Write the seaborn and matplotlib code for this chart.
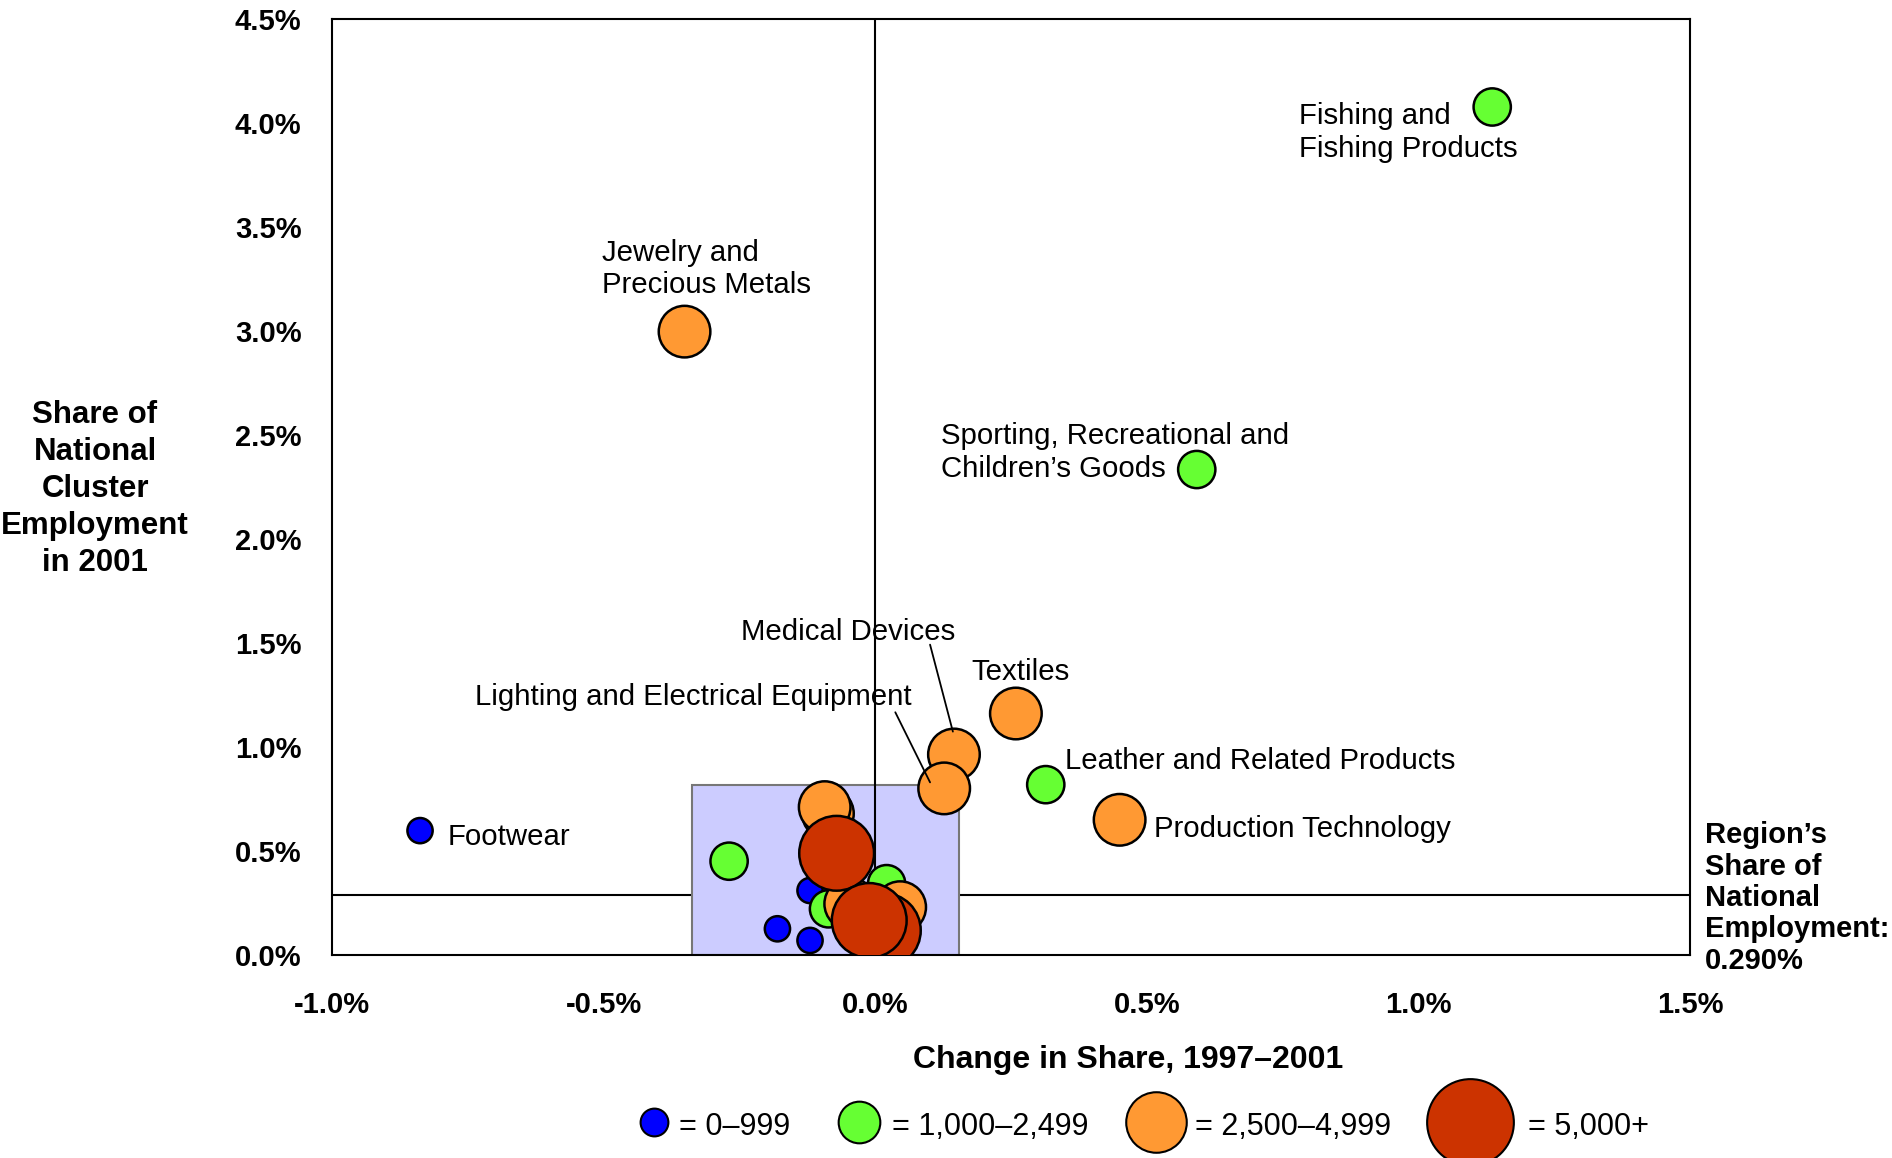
import matplotlib
matplotlib.use("Agg")
import matplotlib.pyplot as plt
import seaborn as sns
import pandas as pd
from matplotlib.patches import Rectangle

# ------------------------------------------------------------
# Data
# ------------------------------------------------------------
size_classes = ["0–999", "1,000–2,499", "2,500–4,999", "5,000+"]
class_colors = ["#0000FF", "#66FF33", "#FF9933", "#CC3300"]

blue_x = [-0.838, -0.120, -0.180, -0.120]
blue_y = [0.598, 0.310, 0.126, 0.070]

green_x = [1.136, 0.592, 0.314, -0.269, 0.021, -0.086]
green_y = [4.077, 2.334, 0.819, 0.451, 0.343, 0.222]

orange_x = [-0.351, 0.259, 0.145, 0.127, 0.450, -0.087, -0.093, -0.046, 0.046]
orange_y = [2.997, 1.161, 0.964, 0.801, 0.650, 0.680, 0.711, 0.246, 0.230]

red_x = [-0.071, 0.015, -0.011]
red_y = [0.489, 0.118, 0.166]

region_share = 0.29
box_x = [-0.338, 0.155]
box_y = [0.0, 0.815]

labels = ["Fishing and\nFishing Products", "Jewelry and\nPrecious Metals",
          "Sporting, Recreational and\nChildren’s Goods", "Medical Devices", "Textiles",
          "Lighting and Electrical Equipment", "Leather and Related Products",
          "Production Technology", "Footwear"]
label_x = [0.781, -0.503, 0.121, -0.247, 0.177, -0.736, 0.350, 0.514, -0.787]
label_y = [3.955, 3.298, 2.415, 1.552, 1.360, 1.239, 0.931, 0.606, 0.565]

# leader lines: (x0, y0, x1, y1)
leaders = [(0.101, 1.492, 0.143, 1.074), (0.037, 1.167, 0.101, 0.830)]

xticks = [-1.0, -0.5, 0.0, 0.5, 1.0, 1.5]
yticks = [0.0, 0.5, 1.0, 1.5, 2.0, 2.5, 3.0, 3.5, 4.0, 4.5]

# build a table for seaborn
df = pd.DataFrame({
    "x": blue_x + green_x + orange_x + red_x,
    "y": blue_y + green_y + orange_y + red_y,
    "cls": [size_classes[0]] * len(blue_x) + [size_classes[1]] * len(green_x)
           + [size_classes[2]] * len(orange_x) + [size_classes[3]] * len(red_x),
})

# ------------------------------------------------------------
# Plot
# ------------------------------------------------------------
sns.set_style("white")
plt.rcParams["font.family"] = ["Liberation Sans", "DejaVu Sans"]
plt.rcParams["text.color"] = "black"
plt.rcParams["xtick.color"] = "black"
plt.rcParams["ytick.color"] = "black"

W, H = 1892, 1158
fig = plt.figure(figsize=(W / 100, H / 100), dpi=100)
ax = fig.add_axes([0.1755, 0.1753, 0.7177, 0.8083])

ax.axhline(region_share, color="black", lw=1.5, zorder=1)
ax.add_patch(Rectangle((box_x[0], box_y[0]), box_x[1] - box_x[0], box_y[1] - box_y[0],
                       facecolor="#CCCCFF", edgecolor="#777777", lw=1.5, zorder=2))
ax.axvline(0, color="black", lw=1.5, zorder=3)

palette = dict(zip(size_classes, class_colors))
sizes = dict(zip(size_classes, [330, 720, 1380, 2900]))
sns.scatterplot(data=df, x="x", y="y", hue="cls", size="cls", palette=palette, sizes=sizes,
                edgecolor="black", linewidth=1.8, alpha=1, legend=False, ax=ax, zorder=4)

for txt, lx, ly in zip(labels, label_x, label_y):
    ax.text(lx, ly, txt, fontsize=21.2, ha="left", va="center", linespacing=1.2, zorder=5)
for x0, y0, x1, y1 in leaders:
    ax.plot([x0, x1], [y0, y1], color="black", lw=1.3, zorder=5)

ax.set_xlim(-1.0, 1.5)
ax.set_ylim(0, 4.5)
ax.set_xticks(xticks)
ax.set_yticks(yticks)
ax.set_xticklabels([f"{t:.1f}%" for t in xticks], fontsize=21, fontweight="bold")
ax.set_yticklabels([f"{t:.1f}%" for t in yticks], fontsize=21, fontweight="bold")
ax.tick_params(axis="x", length=0, pad=26)
ax.tick_params(axis="y", length=0, pad=22)
for s in ax.spines.values():
    s.set_color("black")
    s.set_linewidth(1.5)
ax.set_xlabel("")
ax.set_ylabel("")

fig.text(1128 / W, 1 - 1060 / H, "Change in Share, 1997–2001", fontsize=23,
         fontweight="bold", ha="center", va="center")
fig.text(95 / W, 1 - 489 / H, "Share of\nNational\nCluster\nEmployment\nin 2001",
         fontsize=22.5, fontweight="bold", ha="center", va="center", linespacing=1.3)
fig.text(1705 / W, 1 - 898 / H, "Region’s\nShare of\nNational\nEmployment:\n0.290%",
         fontsize=21, fontweight="bold", ha="left", va="center", linespacing=1.15)

# legend row drawn in its own pixel-coordinate axes
lax = fig.add_axes([0, 0, 1, 1], zorder=-1)
lax.set_xlim(0, W)
lax.set_ylim(H, 0)
lax.axis("off")
leg_marker_x = [654, 859, 1156, 1470]
leg_text_x = [679, 892, 1195, 1528]
leg_sizes = [400, 900, 1900, 3900]
for c, mx, tx, s, lab in zip(class_colors, leg_marker_x, leg_text_x, leg_sizes, size_classes):
    lax.scatter([mx], [1122], s=s, color=c, edgecolor="black", linewidth=1.5, clip_on=False)
    lax.text(tx, 1127, "= " + lab, fontsize=22, ha="left", va="center")

fig.savefig("out.png", dpi=100)
